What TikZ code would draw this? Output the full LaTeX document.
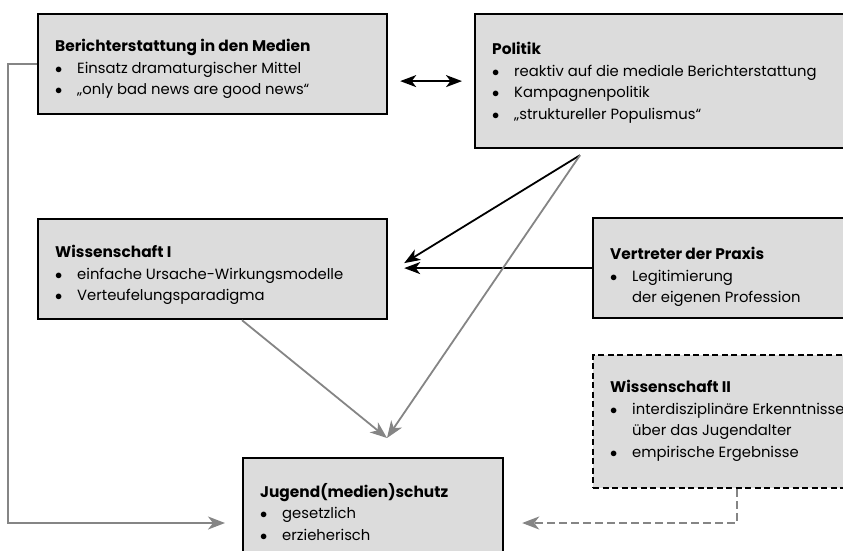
\documentclass[tikz,border=0pt]{standalone}
\usepackage{fontspec}
\setmainfont{Poppins}
\usetikzlibrary{arrows.meta,positioning,calc}

\definecolor{boxgray}{HTML}{DCDCDC}
\definecolor{linegray}{HTML}{858585}

\tikzset{
  box/.style={draw=black, line width=2.2pt, fill=boxgray, anchor=north west, inner sep=0pt},
  dbox/.style={box, dash pattern=on 6pt off 3.5pt},
  boxtext/.style={anchor=north west, align=left, inner sep=0pt, font=\fontsize{14.8}{21.5}\selectfont},
  blackarrow/.style={line width=1.8pt, -{Stealth[length=16pt,width=12pt,inset=4.5pt]}},
  dblarrow/.style={line width=1.8pt, {Stealth[length=16pt,width=12pt,inset=4.5pt]}-{Stealth[length=16pt,width=12pt,inset=4.5pt]}},
  grayarrow/.style={line width=1.8pt, linegray, -{Stealth[length=17pt,width=13pt,inset=5pt]}},
}

\newcommand{\titel}[1]{{\fontsize{15.4}{21.5}\selectfont\bfseries #1}}
\newcommand{\punkt}[1]{\makebox[22pt][l]{$\bullet$}#1}
\newcommand{\einzug}[1]{\hspace*{22pt}#1}

\begin{document}
\begin{tikzpicture}[x=1pt,y=-1pt]
  \useasboundingbox (0,0) rectangle (843,550);
  \clip (0,0) rectangle (843,550);

  % Kästen
  \node[box, minimum width=349pt, minimum height=100pt] (medien) at (37,13) {};
  \node[box, minimum width=420pt, minimum height=134pt] (politik) at (474,13) {};
  \node[box, minimum width=349pt, minimum height=100pt] (wiss1) at (37,218) {};
  \node[box, minimum width=300pt, minimum height=100pt] (praxis) at (592,217) {};
  \node[dbox, minimum width=300pt, minimum height=133pt] (wiss2) at (592,354) {};
  \node[box, minimum width=260pt, minimum height=140pt] (jugend) at (242,457) {};

  % Texte
  \node[boxtext] (medien-txt) at ([shift={(18pt,-26pt)}]medien.north west)
    {\titel{Berichterstattung in den Medien}\\
     \punkt{Einsatz dramaturgischer Mittel}\\
     \punkt{„only bad news are good news“}};
  \node[boxtext] (politik-txt) at ([shift={(18pt,-29pt)}]politik.north west)
    {\titel{Politik}\\
     \punkt{reaktiv auf die mediale Berichterstattung}\\
     \punkt{Kampagnenpolitik}\\
     \punkt{„struktureller Populismus“}};
  \node[boxtext] (wiss1-txt) at ([shift={(18pt,-27pt)}]wiss1.north west)
    {\titel{Wissenschaft I}\\
     \punkt{einfache Ursache-Wirkungsmodelle}\\
     \punkt{Verteufelungsparadigma}};
  \node[boxtext] (praxis-txt) at ([shift={(18pt,-30pt)}]praxis.north west)
    {\titel{Vertreter der Praxis}\\
     \punkt{Legitimierung}\\
     \einzug{der eigenen Profession}};
  \node[boxtext] (wiss2-txt) at ([shift={(18pt,-26pt)}]wiss2.north west)
    {\titel{Wissenschaft II}\\
     \punkt{interdisziplinäre Erkenntnisse}\\
     \einzug{über das Jugendalter}\\
     \punkt{empirische Ergebnisse}};
  \node[boxtext] (jugend-txt) at ([shift={(18pt,-26pt)}]jugend.north west)
    {\titel{Jugend(medien)schutz}\\
     \punkt{gesetzlich}\\
     \punkt{erzieherisch}};

  % Hilfspunkte
  \coordinate (pol-aus) at ([shift={(106pt,-6pt)}]politik.south west);
  \coordinate (treffpunkt) at ([shift={(145pt,19pt)}]jugend.north west);
  \coordinate (jug-links) at ([shift={(-17pt,-66pt)}]jugend.north west);
  \coordinate (jug-rechts) at ([shift={(18pt,-66pt)}]jugend.north east);

  % Verbindungen
  \draw[dblarrow] ([xshift=12pt]medien.east |- politik.west) -- ([xshift=-12pt]politik.west);
  \draw[blackarrow] (pol-aus) -- ([shift={(16pt,6pt)}]wiss1.east);
  \draw[blackarrow] (praxis.west) -- ([xshift=16pt]wiss1.east |- praxis.west);
  \draw[grayarrow] (pol-aus) -- (treffpunkt);
  \draw[grayarrow] ([xshift=205pt]wiss1.south west) -- (treffpunkt);
  \draw[grayarrow] (medien.west) -- ++(-29pt,0pt) |- (jug-links);
  \draw[grayarrow, dash pattern=on 8pt off 4pt] ([xshift=145pt]wiss2.south west) |- (jug-rechts);
\end{tikzpicture}
\end{document}
